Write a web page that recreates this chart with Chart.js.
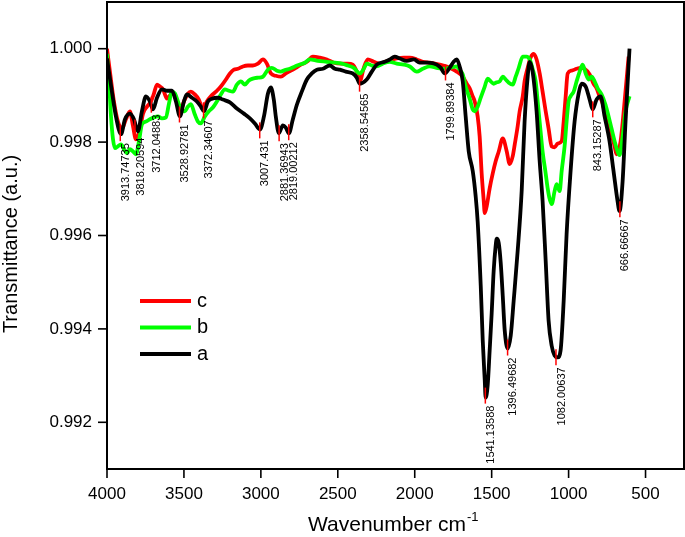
<!DOCTYPE html>
<html>
<head>
<meta charset="utf-8">
<script src="https://cdn.jsdelivr.net/npm/chart.js@4.4.0/dist/chart.umd.min.js"></script>
<style>
  body { margin: 0; background: #fff; }
</style>
</head>
<body>
<canvas id="mychart" width="685" height="537"></canvas>
<script>
// spectrum a (black)
const aWave = [4000,3968,3942,3909,3883,3851,3825,3799,3773,3747,3721,3701,3675,3643,3610,3578,3552,3526,3500,3481,3448,3416,3390,3370,3344,3318,3279,3247,3201,3156,3110,3071,3039,3006,2980,2954,2935,2916,2903,2883,2857,2838,2818,2792,2766,2734,2701,2669,2636,2597,2552,2519,2487,2448,2403,2377,2357,2312,2279,2247,2195,2162,2130,2097,2052,2006,1968,1916,1857,1831,1805,1773,1747,1727,1708,1688,1669,1649,1623,1604,1591,1571,1558,1545,1539,1526,1513,1500,1487,1474,1467,1454,1441,1428,1415,1396,1376,1357,1331,1305,1286,1266,1253,1234,1208,1188,1169,1149,1130,1110,1091,1071,1052,1032,1013,987,961,935,915,889,863,844,818,792,766,734,708,682,669,649,630,604];
const aTrans = [0.99979,0.99908,0.99855,0.99817,0.99849,0.99861,0.99849,0.99823,0.99866,0.99898,0.99887,0.9987,0.99895,0.99913,0.9991,0.9991,0.99887,0.99855,0.99887,0.99902,0.99895,0.99887,0.99876,0.99866,0.99887,0.99893,0.99895,0.99891,0.99885,0.99872,0.99861,0.99851,0.9984,0.99827,0.99855,0.99904,0.99917,0.99891,0.99855,0.99819,0.99836,0.99831,0.99819,0.99849,0.9988,0.99908,0.99934,0.99947,0.99955,0.99957,0.99964,0.99957,0.99955,0.99951,0.99947,0.99938,0.99925,0.99934,0.99951,0.99966,0.99972,0.99977,0.99983,0.99979,0.99974,0.99977,0.9997,0.9997,0.99966,0.99959,0.99947,0.99959,0.99972,0.99977,0.99962,0.9993,0.99855,0.9978,0.99738,0.99684,0.9963,0.99492,0.99375,0.9929,0.99253,0.99279,0.99354,0.99433,0.99524,0.99578,0.99593,0.99584,0.99541,0.99471,0.99396,0.99358,0.99386,0.9946,0.99567,0.99695,0.99844,0.9994,0.99972,0.99951,0.99866,0.99759,0.99674,0.99546,0.99418,0.99364,0.99343,0.99339,0.99354,0.9946,0.99603,0.99738,0.99844,0.99904,0.99925,0.99919,0.99891,0.9987,0.99891,0.99898,0.99855,0.99802,0.99738,0.99674,0.99652,0.99716,0.99844,1.0];

// spectrum b (green)
const bWave = [4000,3987,3974,3961,3948,3929,3909,3890,3870,3851,3831,3812,3792,3773,3747,3721,3695,3669,3643,3617,3597,3578,3558,3539,3519,3494,3474,3455,3429,3409,3390,3364,3338,3312,3286,3260,3234,3208,3182,3156,3130,3104,3078,3052,3019,2987,2954,2929,2896,2870,2838,2812,2779,2747,2714,2682,2630,2571,2519,2474,2435,2396,2357,2331,2312,2279,2247,2208,2162,2117,2071,2032,1987,1948,1902,1857,1818,1773,1727,1708,1688,1669,1643,1623,1610,1591,1571,1545,1526,1506,1487,1467,1448,1428,1409,1389,1363,1344,1324,1298,1273,1253,1234,1214,1201,1182,1169,1149,1136,1123,1110,1091,1078,1058,1045,1026,1013,1000,987,967,948,928,909,889,870,850,831,811,785,760,740,721,701,682,669,649,630,604];
const bTrans = [0.99989,0.9993,0.99855,0.99806,0.99787,0.99791,0.99795,0.99785,0.99776,0.99785,0.9978,0.99774,0.99802,0.99838,0.99844,0.99849,0.99853,0.99855,0.99851,0.99853,0.99883,0.99908,0.99904,0.99887,0.9987,0.99866,0.99876,0.99881,0.99859,0.99844,0.9984,0.99855,0.99866,0.99874,0.99887,0.99902,0.99913,0.9991,0.99908,0.99923,0.9993,0.99923,0.99932,0.99936,0.99938,0.9994,0.99955,0.99959,0.99953,0.99951,0.99955,0.99957,0.99962,0.99966,0.9997,0.99977,0.99974,0.99972,0.9997,0.99968,0.99964,0.99959,0.99947,0.99957,0.99968,0.99964,0.99962,0.99968,0.99972,0.99968,0.99966,0.99962,0.99951,0.99957,0.99962,0.99959,0.99957,0.99959,0.99962,0.99955,0.99945,0.99919,0.99893,0.9987,0.99866,0.99876,0.99895,0.99919,0.99936,0.9993,0.99925,0.99928,0.9993,0.9994,0.99934,0.99927,0.99923,0.9994,0.99959,0.99983,0.99983,0.99977,0.99957,0.9993,0.99887,0.99823,0.9978,0.99733,0.99701,0.99678,0.99667,0.99695,0.9971,0.99695,0.99738,0.99791,0.99844,0.99887,0.99898,0.99908,0.9993,0.99951,0.99966,0.99947,0.99934,0.9994,0.9993,0.99915,0.99902,0.9988,0.99855,0.99829,0.99802,0.9978,0.99772,0.99812,0.99866,0.99898];

// spectrum c (red)
const cWave = [4000,3981,3955,3929,3903,3877,3851,3831,3812,3786,3766,3740,3714,3695,3675,3656,3636,3610,3591,3571,3545,3526,3500,3474,3455,3429,3403,3377,3351,3325,3292,3260,3227,3201,3175,3149,3117,3084,3052,3019,2987,2961,2935,2903,2870,2838,2805,2773,2740,2701,2662,2617,2571,2526,2480,2435,2403,2377,2357,2331,2305,2266,2227,2175,2117,2071,2032,1987,1948,1902,1838,1792,1760,1727,1688,1662,1643,1623,1610,1591,1578,1565,1552,1545,1532,1513,1493,1474,1454,1428,1402,1383,1363,1350,1331,1318,1298,1286,1266,1247,1227,1208,1188,1169,1149,1130,1110,1091,1071,1045,1032,1019,1006,980,948,922,896,863,838,818,799,779,753,734,714,701,688,662,636,610];
const cTrans = [1.0,0.99951,0.99887,0.99844,0.99829,0.99849,0.99866,0.99834,0.99806,0.99827,0.99861,0.99876,0.99887,0.99904,0.99923,0.99919,0.99913,0.99893,0.999,0.99904,0.99887,0.99866,0.99887,0.99904,0.99908,0.99902,0.99891,0.99872,0.99887,0.99898,0.99908,0.99919,0.99934,0.99947,0.99955,0.99957,0.99962,0.99964,0.99964,0.99968,0.99977,0.99968,0.99947,0.99942,0.9994,0.99947,0.99953,0.99959,0.99966,0.99972,0.99983,0.99981,0.99977,0.9997,0.99968,0.99968,0.99966,0.99951,0.9993,0.99959,0.99977,0.99972,0.99968,0.99974,0.99979,0.99981,0.99981,0.99977,0.99972,0.9997,0.99966,0.99962,0.99957,0.99951,0.9994,0.99925,0.99915,0.99898,0.99887,0.99855,0.99812,0.99733,0.99676,0.99648,0.99663,0.99701,0.99733,0.99759,0.9978,0.99808,0.9978,0.99753,0.9977,0.99795,0.99834,0.99866,0.99898,0.9993,0.99959,0.99981,0.99989,0.99977,0.99947,0.99908,0.99866,0.99829,0.99791,0.99789,0.99797,0.99802,0.99844,0.99898,0.99947,0.99953,0.99957,0.99959,0.99957,0.99945,0.99925,0.99915,0.99898,0.99883,0.99844,0.99823,0.99808,0.99791,0.99774,0.99802,0.99887,0.99983];

// marked peaks
const peakWave = [3913.74735,3818.20594,3712.04883,3528.92781,3372.34607,3007.431,2881.36943,2819.00212,2358.54565,1799.89384,1541.13588,1396.49682,1082.00637,843.15287,666.66667];
const peakTrans = [0.99817,0.99829,0.99878,0.99857,0.99866,0.99823,0.99817,0.99819,0.99923,0.99947,0.99255,0.99358,0.99337,0.99868,0.99654];
const peakLabels = ['3913.74735','3818.20594','3712.04883','3528.92781','3372.34607','3007.431','2881.36943','2819.00212','2358.54565','1799.89384','1541.13588','1396.49682','1082.00637','843.15287','666.66667'];

const xTickLabels = [4000,3500,3000,2500,2000,1500,1000,500];
const yTickLabels = ['0.992','0.994','0.996','0.998','1.000'];

const FONT = "'Liberation Sans', Arial, sans-serif";
Chart.defaults.font.family = FONT;
Chart.defaults.color = '#000';

function pts(w, t) {
    return w.map((v, i) => ({x: v, y: t[i]}));
}

const framePlugin = {
    id: 'frame',
    afterDatasetsDraw(chart) {
        const ctx = chart.ctx;
        const x = chart.scales.x, y = chart.scales.y;
        // red peak markers and rotated labels
        ctx.save();
        for (let i = 0; i < peakWave.length; i++) {
            const px = x.getPixelForValue(peakWave[i]);
            const py = y.getPixelForValue(peakTrans[i]);
            ctx.strokeStyle = '#ff0000';
            ctx.lineWidth = 1.5;
            ctx.beginPath();
            ctx.moveTo(px, py - 9);
            ctx.lineTo(px, py + 7);
            ctx.stroke();
            ctx.save();
            ctx.translate(px, py + 9);
            ctx.rotate(-Math.PI / 2);
            ctx.font = '11px ' + FONT;
            ctx.fillStyle = '#000';
            ctx.textAlign = 'right';
            ctx.textBaseline = 'top';
            ctx.fillText(peakLabels[i], 0, 0);
            ctx.restore();
        }
        ctx.restore();
    },
    afterDraw(chart) {
        const ctx = chart.ctx;
        const ca = chart.chartArea;
        const x = chart.scales.x, y = chart.scales.y;
        ctx.save();
        ctx.strokeStyle = '#000';
        ctx.lineWidth = 2;
        ctx.strokeRect(ca.left, ca.top, ca.right - ca.left, ca.bottom - ca.top);
        ctx.lineWidth = 1.6;
        x.ticks.forEach(t => {
            const px = x.getPixelForValue(t.value);
            const len = t.label ? 9 : 5;
            ctx.beginPath();
            ctx.moveTo(px, ca.bottom);
            ctx.lineTo(px, ca.bottom + len);
            ctx.stroke();
        });
        y.ticks.forEach(t => {
            const py = y.getPixelForValue(t.value);
            const len = t.label ? 9 : 5;
            ctx.beginPath();
            ctx.moveTo(ca.left - len, py);
            ctx.lineTo(ca.left, py);
            ctx.stroke();
        });

        // legend
        const order = [2, 1, 0];
        order.forEach((di, k) => {
            const ds = chart.data.datasets[di];
            const ly = 301 + k * 26.5;
            ctx.strokeStyle = ds.borderColor;
            ctx.lineWidth = 4;
            ctx.beginPath();
            ctx.moveTo(140, ly);
            ctx.lineTo(191, ly);
            ctx.stroke();
            ctx.fillStyle = '#000';
            ctx.font = '20px ' + FONT;
            ctx.textAlign = 'left';
            ctx.textBaseline = 'middle';
            ctx.fillText(ds.label, 197, ly);
        });

        // axis titles
        ctx.fillStyle = '#000';
        ctx.textBaseline = 'alphabetic';
        ctx.textAlign = 'left';
        ctx.font = '21px ' + FONT;
        const main = 'Wavenumber cm';
        ctx.fillText(main, 308, 531);
        const mw = ctx.measureText(main).width;
        ctx.font = '13px ' + FONT;
        ctx.fillText('-1', 308 + mw + 1, 521);

        ctx.save();
        ctx.translate(17, 244);
        ctx.rotate(-Math.PI / 2);
        ctx.font = '20px ' + FONT;
        ctx.textAlign = 'center';
        ctx.textBaseline = 'alphabetic';
        ctx.fillText('Transmittance (a.u.)', 0, 0);
        ctx.restore();
        ctx.restore();
    }
};

const a = document.getElementById('mychart').getContext('2d');
const mychart = new Chart(a, {
    type: 'line',
    data: {
        datasets: [
            { label: 'a', data: pts(aWave, aTrans), borderColor: '#000000', borderWidth: 3.8 },
            { label: 'b', data: pts(bWave, bTrans), borderColor: '#00ff00', borderWidth: 3.8 },
            { label: 'c', data: pts(cWave, cTrans), borderColor: '#ff0000', borderWidth: 3.8 }
        ]
    },
    options: {
        responsive: false,
        animation: false,
        elements: {
            point: { radius: 0 },
            line: { cubicInterpolationMode: 'monotone', fill: false }
        },
        layout: { padding: { top: 2, right: 1, left: 0, bottom: 0 } },
        plugins: { legend: { display: false }, tooltip: { enabled: false } },
        scales: {
            x: {
                type: 'linear',
                reverse: true,
                min: 250,
                max: 4000,
                grid: { display: false, drawTicks: false },
                border: { display: false },
                ticks: {
                    stepSize: 250,
                    autoSkip: false,
                    maxRotation: 0,
                    padding: 15,
                    font: { size: 17 },
                    color: '#000',
                    callback: v => xTickLabels.includes(v) ? String(v) : null
                },
                afterFit: s => { s.height = 68; s.paddingLeft = 0; s.paddingRight = 0; }
            },
            y: {
                type: 'linear',
                min: 0.991,
                max: 1.001,
                grid: { display: false, drawTicks: false },
                border: { display: false },
                ticks: {
                    stepSize: 0.001,
                    autoSkip: false,
                    padding: 15,
                    font: { size: 17 },
                    color: '#000',
                    callback: v => {
                        const s = v.toFixed(3);
                        return yTickLabels.includes(s) ? s : null;
                    }
                },
                afterFit: s => { s.width = 107; s.paddingTop = 0; s.paddingBottom = 0; }
            }
        }
    },
    plugins: [framePlugin]
});
</script>
</body>
</html>
